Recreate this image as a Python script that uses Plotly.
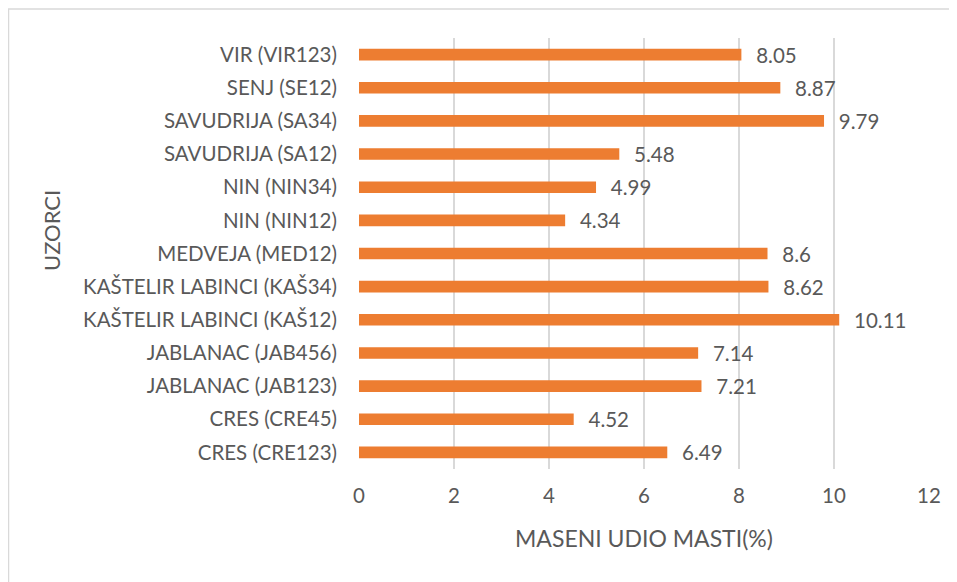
import plotly.graph_objects as go

categories = ["CRES (CRE123)", "CRES (CRE45)", "JABLANAC (JAB123)", "JABLANAC (JAB456)",
              "KAŠTELIR LABINCI (KAŠ12)", "KAŠTELIR LABINCI (KAŠ34)", "MEDVEJA (MED12)",
              "NIN (NIN12)", "NIN (NIN34)", "SAVUDRIJA (SA12)", "SAVUDRIJA (SA34)",
              "SENJ (SE12)", "VIR (VIR123)"]
values = [6.49, 4.52, 7.21, 7.14, 10.11, 8.62, 8.6, 4.34, 4.99, 5.48, 9.79, 8.87, 8.05]
x_ticks = [0, 2, 4, 6, 8, 10, 12]
x_title = "MASENI UDIO MASTI(%)"
y_title = "UZORCI"

FONT = "Lato"
TXT = "#595959"
FS = 20.5

# page body has an 8px margin; figure coordinates = screen - 8
W, H = 949, 574
L, T = 351, 30
pw, ph = 570, 431
R, B = W - L - pw, H - T - ph

def px_x(x):
    return (x - L) / pw

def px_y(y):
    return (T + ph - y) / ph

fig = go.Figure(go.Bar(
    y=categories, x=values, orientation="h",
    marker=dict(color="#ED7D31", line=dict(width=0)),
    text=["  \u200a" + str(v) for v in values],
    textposition="outside", cliponaxis=False, constraintext="none",
    textfont=dict(family=FONT, size=FS, color=TXT),
))

fig.update_layout(
    width=W, height=H,
    margin=dict(l=L, r=R, t=T, b=B, autoexpand=False),
    paper_bgcolor="white", plot_bgcolor="white",
    bargap=0.65, showlegend=False,
    font=dict(family=FONT, color=TXT, size=FS),
    xaxis=dict(range=[0, 12], tickvals=x_ticks, showgrid=True, gridcolor="#d9d9d9",
               gridwidth=2, zeroline=False, showline=False, ticks="",
               ticklabelstandoff=12, tickfont=dict(family=FONT, size=FS, color=TXT)),
    yaxis=dict(showgrid=False, zeroline=False, showline=False, ticks="",
               ticklabelstandoff=21, tickfont=dict(family=FONT, size=FS, color=TXT)),
    annotations=[
        dict(text=x_title, xref="paper", yref="paper", x=0.5, y=px_y(530),
             showarrow=False, font=dict(family=FONT, size=23, color=TXT),
             xanchor="center", yanchor="middle"),
        dict(text=y_title, xref="paper", yref="paper", x=px_x(43), y=px_y(223), textangle=-90,
             showarrow=False, font=dict(family=FONT, size=22, color=TXT),
             xanchor="center", yanchor="middle"),
    ],
    shapes=[dict(type="rect", xref="paper", yref="paper",
                 x0=px_x(0.5), x1=px_x(1000), y0=px_y(640), y1=px_y(1),
                 line=dict(color="#d9d9d9", width=1.5), fillcolor="rgba(0,0,0,0)", layer="below")],
)

fig.write_html("out.html")
